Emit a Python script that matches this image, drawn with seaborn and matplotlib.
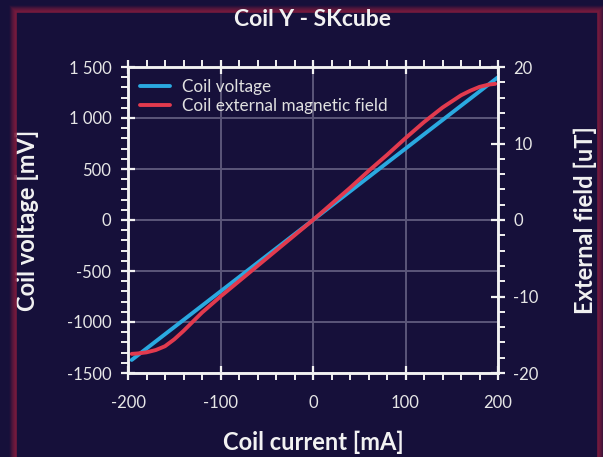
import matplotlib
matplotlib.use("Agg")
import matplotlib.pyplot as plt
import seaborn as sns
from matplotlib.patches import Rectangle
from matplotlib.ticker import MultipleLocator

# data
current = [-196, -180, -160, -140, -120, -100, -80, -60, -40, -20, 0,
           20, 40, 60, 80, 100, 120, 140, 160, 180, 200]
voltage = [-1372, -1260, -1120, -980, -840, -700, -560, -420, -280, -140, 0,
           140, 280, 420, 560, 700, 840, 980, 1120, 1260, 1400]

field_current = [-196, -190, -180, -170, -160, -150, -140, -130, -120, -100, -80,
                 -60, -40, -20, 0, 20, 40, 60, 80, 100, 120, 140, 150, 160,
                 170, 180, 190, 197]
field = [-17.5, -17.45, -17.3, -17.0, -16.5, -15.6, -14.5, -13.3, -12.1, -10.0, -8.0,
         -6.0, -4.0, -2.0, 0.0, 2.1, 4.2, 6.4, 8.5, 10.7, 12.8, 14.7, 15.5, 16.3,
         16.9, 17.4, 17.7, 17.8]

left_ticks = [-1500, -1000, -500, 0, 500, 1000, 1500]
left_labels = ["-1500", "-1000", "-500", "0", "500", "1 000", "1 500"]
right_ticks = [-20, -10, 0, 10, 20]
x_ticks = [-200, -100, 0, 100, 200]

BG = "#16103a"
FG = "#f2f2f2"
BLUE = "#2aa9e0"
RED = "#e23a4e"
GRID = "#5b5679"
FRAME = "#7d1b3d"

W, H = 603, 457

sns.set_style("dark")
plt.rcParams['font.family'] = ['Lato', 'DejaVu Sans']
plt.rcParams['axes.unicode_minus'] = False

fig = plt.figure(figsize=(6.03, 4.57), dpi=100, facecolor=BG)
ax = fig.add_axes([128 / W, 84 / H, 370 / W, 306 / H])
ax.set_facecolor(BG)

# red frame with a soft glow going outwards
for i in range(7):
    x0, x1, y1 = 16 - i, 598 + i, H - 12 + i
    fig.patches.append(Rectangle((x0 / W, -0.1), (x1 - x0) / W, y1 / H + 0.1,
                                 transform=fig.transFigure, fill=False,
                                 edgecolor=FRAME, linewidth=1.2,
                                 alpha=max(0.9 - i * 0.14, 0.08)))

sns.lineplot(x=current, y=voltage, ax=ax, color=BLUE, linewidth=2.8,
             label="Coil voltage", legend=False)
ax.plot([], [], color=RED, linewidth=2.8, label="Coil external magnetic field")

ax2 = ax.twinx()
sns.lineplot(x=field_current, y=field, ax=ax2, color=RED, linewidth=2.8, legend=False)

ax.set_xlim(-200, 200)
ax.set_ylim(-1500, 1500)
ax2.set_ylim(-20, 20)

ax.set_xticks(x_ticks)
ax.set_yticks(left_ticks)
ax.set_yticklabels(left_labels)
ax2.set_yticks(right_ticks)
ax.xaxis.set_minor_locator(MultipleLocator(20))
ax.yaxis.set_minor_locator(MultipleLocator(100))
ax2.yaxis.set_minor_locator(MultipleLocator(2))

ax.grid(True, which="major", color=GRID, linewidth=1.4)
ax2.grid(False)

for a in (ax, ax2):
    for s in a.spines.values():
        s.set_color(FG)
        s.set_linewidth(1.8)
        s.set_visible(True)
    a.tick_params(which="major", direction="inout", length=10, width=1.6,
                  colors=FG, labelsize=12, labelcolor="#e6e6e6")
    a.tick_params(which="minor", direction="out", length=5, width=1.4, colors=FG)
ax.tick_params(axis="x", which="both", top=True, bottom=True, pad=11)
ax.tick_params(axis="y", which="both", left=True, right=False, pad=7)
ax2.tick_params(axis="y", which="both", right=True, left=False, pad=6)

ax.set_xlabel("Coil current [mA]", fontsize=17, fontweight="bold", color=FG)
ax.set_ylabel("Coil voltage [mV]", fontsize=17, fontweight="bold", color=FG)
ax2.set_ylabel("External field [uT]", fontsize=17, fontweight="bold", color=FG)
ax.xaxis.set_label_coords(0.5, -0.19)
ax.yaxis.set_label_coords(-0.24, 0.5)
ax2.yaxis.set_label_coords(1.205, 0.5)

fig.text(313 / W, 1 - 20 / H, "Coil Y - SKcube", ha="center", va="center",
         fontsize=16.5, fontweight="bold", color=FG)

leg = ax.legend(loc="upper left", frameon=False, fontsize=12.3, handlelength=1.75,
                labelspacing=0.15, borderaxespad=0.3, handletextpad=0.7)
for t in leg.get_texts():
    t.set_color("#e0e0e0")

fig.savefig("out.png", dpi=100, facecolor=BG)
